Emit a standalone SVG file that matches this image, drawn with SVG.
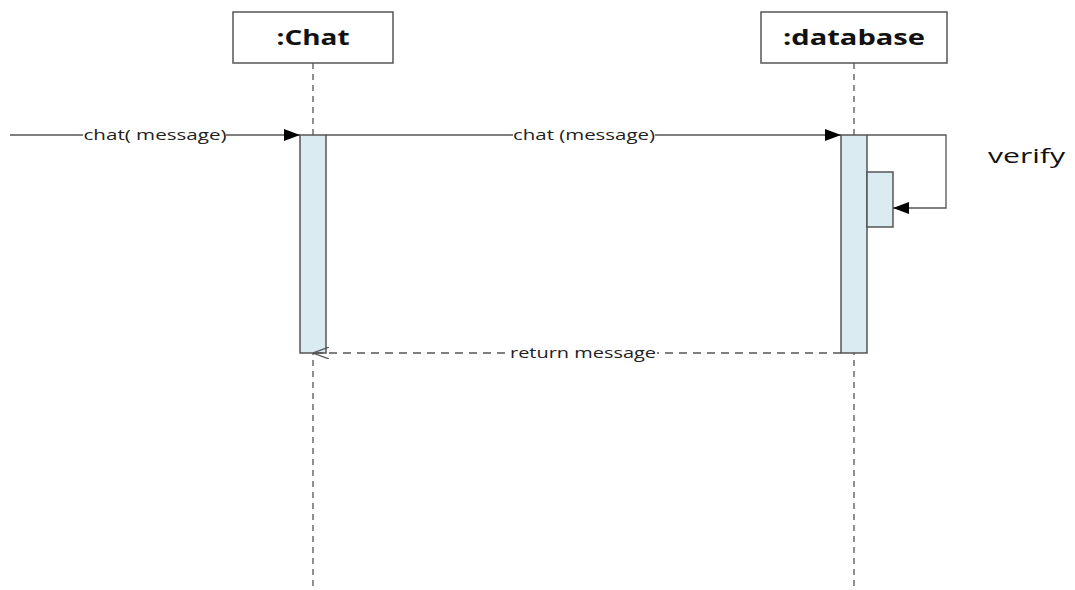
<svg xmlns="http://www.w3.org/2000/svg" width="1075" height="590" viewBox="0 0 1075 590">
<defs>
<style>
.box{fill:#fff;stroke:#555;stroke-width:1.5}
.title{font-family:"Open Sans","Liberation Sans",sans-serif;font-weight:bold;font-size:21px;fill:#111;text-anchor:middle}
.life{stroke:#555;stroke-width:1.3;stroke-dasharray:6,5;fill:none}
.act{fill:#daebf2;stroke:#555;stroke-width:1.5}
.msg{stroke:#555;stroke-width:1.3;fill:none}
.ret{stroke:#555;stroke-width:1.3;fill:none;stroke-dasharray:8,6}
.lbl{font-family:"Open Sans","Liberation Sans",sans-serif;font-size:15px;fill:#222;text-anchor:middle}
.bg{fill:#fff}
</style>
<marker id="filled" markerWidth="16" markerHeight="12" refX="16" refY="6" orient="auto" markerUnits="userSpaceOnUse">
<path d="M0,0 L16,6 L0,12 Z" fill="#000"/>
</marker>
<marker id="open" markerWidth="16" markerHeight="12" refX="16" refY="6" orient="auto" markerUnits="userSpaceOnUse">
<path d="M0,0 L16,6 L0,12" fill="none" stroke="#555" stroke-width="1.2"/>
</marker>
</defs>
<rect width="1075" height="590" fill="#fff"/>
<g id="chat">
<rect class="box" x="233" y="12" width="160" height="51"/>
<text class="title" x="313" y="45" textLength="73" lengthAdjust="spacingAndGlyphs">:Chat</text>
<line class="life" x1="313" y1="63" x2="313" y2="590"/>
<rect class="act" x="300" y="135" width="26" height="218"/>
</g>
<g id="database">
<rect class="box" x="761" y="12" width="186" height="51"/>
<text class="title" x="854" y="45" textLength="142" lengthAdjust="spacingAndGlyphs">:database</text>
<line class="life" x1="854" y1="63" x2="854" y2="590"/>
<rect class="act" x="841" y="135" width="26" height="218"/>
<rect class="act" x="867" y="172" width="26" height="55"/>
</g>
<g id="connectors">
<line class="msg" x1="10" y1="135" x2="300" y2="135" marker-end="url(#filled)"/>
<rect class="bg" x="83" y="126" width="143" height="18"/>
<text class="lbl" x="155" y="140" textLength="143" lengthAdjust="spacingAndGlyphs">chat( message)</text>
<line class="msg" x1="326" y1="135" x2="841" y2="135" marker-end="url(#filled)"/>
<rect class="bg" x="513" y="126" width="142" height="18"/>
<text class="lbl" x="584" y="140" textLength="142" lengthAdjust="spacingAndGlyphs">chat (message)</text>
<polyline class="msg" points="867,135 946,135 946,208 893,208" marker-end="url(#filled)"/>
<line class="ret" x1="841" y1="353" x2="313" y2="353" marker-end="url(#open)"/>
<rect class="bg" x="509" y="344" width="148" height="18"/>
<text class="lbl" x="583" y="358" textLength="146" lengthAdjust="spacingAndGlyphs">return message</text>
<text x="988" y="163" font-family="'Open Sans','Liberation Sans',sans-serif" font-size="20" fill="#111" textLength="77" lengthAdjust="spacingAndGlyphs">verify</text>
</g>
</svg>
